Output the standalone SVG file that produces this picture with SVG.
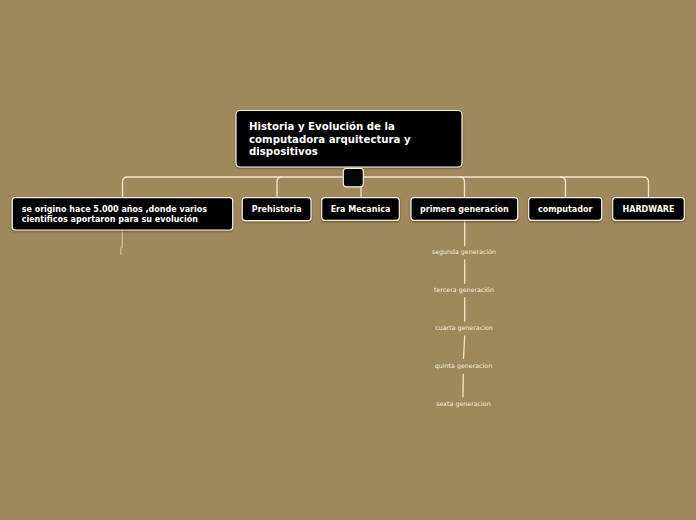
<svg xmlns="http://www.w3.org/2000/svg" width="696" height="520" viewBox="0 0 696 520">
<style>
.bg{fill:#9f885c}
.box{fill:#050505;stroke:#f4efe4;stroke-width:1.2}
.t{font-family:"DejaVu Sans",Verdana,sans-serif;font-weight:bold;fill:#ffffff}
.s{font-family:"DejaVu Sans",Verdana,sans-serif;font-size:6.3px;fill:#f2ecdf;text-anchor:middle}
.c{fill:none;stroke:#efe6cf;stroke-width:1.3;stroke-linecap:round}
</style>
<defs>
<filter id="sh" x="-10%" y="-10%" width="120%" height="140%">
<feDropShadow dx="0" dy="1" stdDeviation="0.8" flood-color="#000" flood-opacity="0.4"/>
</filter>
</defs>
<rect class="bg" x="0" y="0" width="696" height="520"/>
<g id="connectors">
<path class="c" d="M122.5,197.7 V182 Q122.5,177 127.5,177 H643 Q648.5,177 648.5,182 V197.7"/>
<path class="c" d="M277,197.7 V182 Q277,177 282,177"/>
<path class="c" d="M361,187 V197.7"/>
<path class="c" d="M464.5,197.7 V182 Q464.5,177 459.5,177"/>
<path class="c" d="M565.5,197.7 V182 Q565.5,177 560.5,177"/>
<path class="c" d="M464.7,221 V245.7"/>
<path class="c" d="M464.7,260 V283.3"/>
<path class="c" d="M464.7,297.7 V321"/>
<path class="c" d="M464.7,336 L463.5,358.3"/>
<path class="c" d="M463.3,374.3 L463,396.7"/>
<path class="c" d="M122.3,231 V246.7 L120.8,248.5 V254.5" opacity="0.55"/>
</g>
<g id="root">
<rect class="box" x="236" y="110.5" width="226" height="56.5" rx="4" filter="url(#sh)"/>
<text class="t" font-size="10.2" x="249" y="130">Historia y Evolución de la</text>
<text class="t" font-size="10.2" x="249" y="142.5">computadora arquitectura y</text>
<text class="t" font-size="10.2" x="249" y="155">dispositivos</text>
</g>
<g id="root-handle">
<rect class="box" x="343.3" y="168.3" width="20" height="18.5" rx="3"/>
</g>
<g id="n-origen">
<rect class="box" x="12.3" y="197.7" width="220.4" height="32.3" rx="3" filter="url(#sh)"/>
<text class="t" font-size="8" x="21.7" y="211.7">se origino hace 5.000 años ,donde varios</text>
<text class="t" font-size="8" x="21.7" y="221.7">cientificos aportaron para su evolución</text>
</g>
<g id="n-prehistoria">
<rect class="box" x="242.3" y="197.7" width="68.7" height="23" rx="3" filter="url(#sh)"/>
<text class="t" font-size="8" x="276.7" y="212" text-anchor="middle">Prehistoria</text>
</g>
<g id="n-era">
<rect class="box" x="321.7" y="197.7" width="77.6" height="22.6" rx="3" filter="url(#sh)"/>
<text class="t" font-size="8" x="360.5" y="212" text-anchor="middle">Era Mecanica</text>
</g>
<g id="n-primera">
<rect class="box" x="411" y="197.7" width="106.7" height="22.6" rx="3" filter="url(#sh)"/>
<text class="t" font-size="8" x="464.3" y="212" text-anchor="middle">primera generacion</text>
</g>
<g id="n-computador">
<rect class="box" x="528.7" y="197.7" width="73" height="22.6" rx="3" filter="url(#sh)"/>
<text class="t" font-size="8" x="565.2" y="212" text-anchor="middle">computador</text>
</g>
<g id="n-hardware">
<rect class="box" x="612.7" y="197.7" width="71.6" height="22.6" rx="3" filter="url(#sh)"/>
<text class="t" font-size="8" x="648.5" y="212" text-anchor="middle">HARDWARE</text>
</g>
<g id="n-segunda"><text class="s" x="464" y="254">segunda generación</text></g>
<g id="n-tercera"><text class="s" x="464" y="291.7">tercera generación</text></g>
<g id="n-cuarta"><text class="s" x="464" y="329.7">cuarta generacion</text></g>
<g id="n-quinta"><text class="s" x="463.5" y="367.7">quinta generacion</text></g>
<g id="n-sexta"><text class="s" x="463.5" y="405.7">sexta generacion</text></g>
</svg>
